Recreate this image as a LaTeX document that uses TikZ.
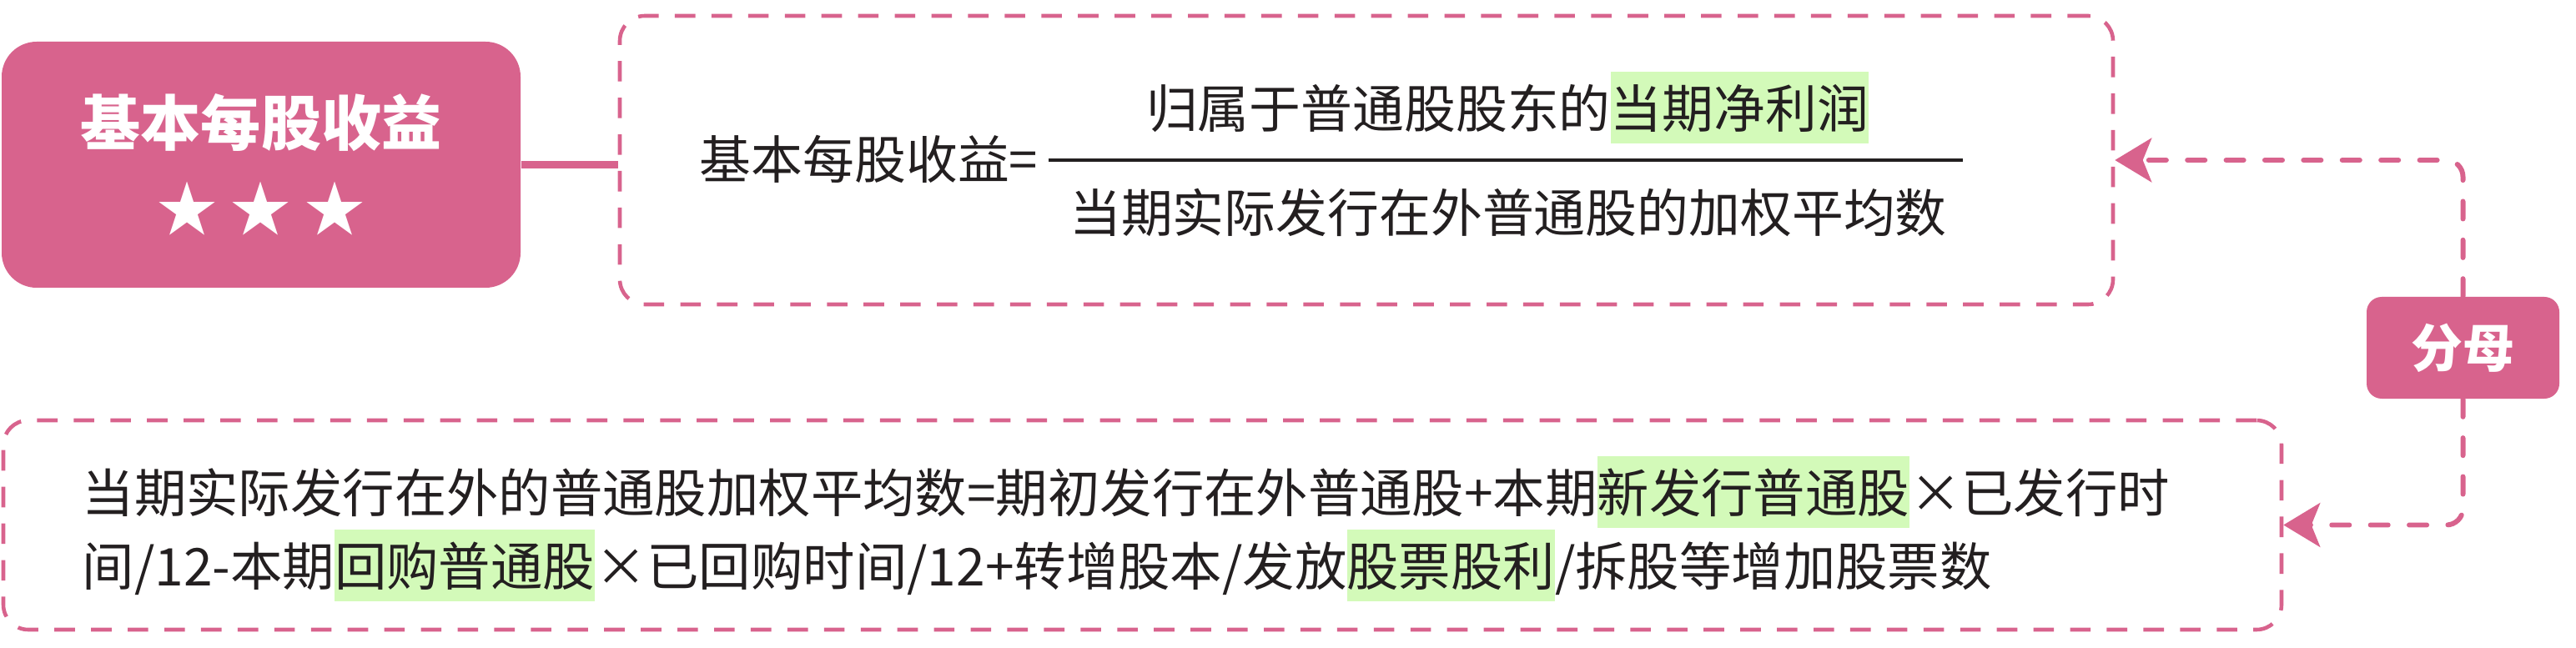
\documentclass[tikz,border=0pt]{standalone}
\usepackage{fontspec}
\setmainfont{Noto Sans CJK SC}
\usetikzlibrary{positioning, calc, arrows.meta}
\definecolor{rosePink}{RGB}{216, 99, 141}
\definecolor{hlGreen}{RGB}{211, 250, 185}
\definecolor{inkDark}{RGB}{35, 31, 32}
\newcommand{\hlt}[1]{{\setlength{\fboxsep}{0pt}\colorbox{hlGreen}{\rule[-0.3em]{0pt}{1.38em}#1}}}

\tikzset{
  card/.style={fill=rosePink, rounded corners=0.42cm, inner sep=0pt},
  notebox/.style={draw=rosePink, line width=1.3pt, dash pattern=on 7pt off 5.5pt, rounded corners=0.3cm, inner sep=0pt},
  link/.style={rosePink, line width=1.7pt, line cap=round, dash pattern=on 6pt off 7.2pt, rounded corners=0.2cm,
    -{Stealth[length=12.5pt, width=15pt, inset=3pt]}},
  body/.style={inkDark, inner sep=0pt, font=\fontsize{17.6pt}{25pt}\selectfont},
}

\begin{document}
\begin{tikzpicture}
        \useasboundingbox (0,0) rectangle (30.88, 7.76);

        % title card
        \node[card, minimum width=6.22cm, minimum height=2.95cm] (card) at (3.13, 5.785) {};
        \node[white, inner sep=0pt, font=\fontsize{20.5pt}{24pt}\selectfont\bfseries] (title) at (3.13, 6.29) {基本每股收益};
        \node[white, inner sep=0pt, font=\fontsize{20.5pt}{24pt}\selectfont] (stars) at (3.13, 5.26) {★ ★ ★};

        % formula box
        \node[notebox, minimum width=17.9cm, minimum height=3.46cm] (formula) at (16.38, 5.84) {};
        \draw[rosePink, line width=2.6pt] (card.east) -- (formula.west |- card.east);

        \node[body] (lhs) at (10.415, 5.85) {基本每股收益=};
        \node[body] (num) at (18.07, 6.47) {归属于普通股股东的\hlt{当期净利润}};
        \node[body] (den) at (18.08, 5.21) {当期实际发行在外普通股的加权平均数};
        \draw[inkDark, line width=1.2pt] (12.57, 5.84) -- (23.53, 5.84);

        % denominator rule
        \node[notebox, minimum width=27.31cm, minimum height=2.51cm] (rule) at (13.695, 1.465) {};
        \node[body, font=\fontsize{17.75pt}{25pt}\selectfont, align=left, anchor=west] (ruletext) at (0.98, 1.42)
          {当期实际发行在外的普通股加权平均数=期初发行在外普通股+本期\hlt{新发行普通股}×已发行时\\
           间/12-本期\hlt{回购普通股}×已回购时间/12+转增股本/发放\hlt{股票股利}/拆股等增加股票数};

        % tag
        \node[card, rounded corners=0.18cm, minimum width=2.31cm, minimum height=1.22cm,
          text=white, font=\fontsize{17.6pt}{20pt}\selectfont\bfseries] (denom) at (29.525, 3.59) {分母};
        \draw[link] (denom.north) |- (formula.east);
        \draw[link] (denom.south) |- (rule.east);
      \end{tikzpicture}
\end{document}
